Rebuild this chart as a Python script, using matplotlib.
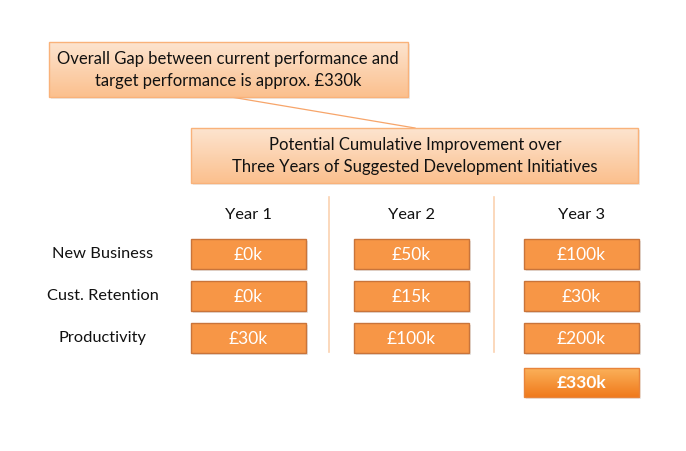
import matplotlib.pyplot as plt
import numpy as np
from matplotlib.patches import Rectangle
from matplotlib.colors import LinearSegmentedColormap

plt.rcParams['font.family'] = ['Lato', 'DejaVu Sans']

# data
years = ["Year 1", "Year 2", "Year 3"]
rows = ["New Business", "Cust. Retention", "Productivity"]
values = [
    ["£0k", "£0k", "£30k"],      # year 1
    ["£50k", "£15k", "£100k"],   # year 2
    ["£100k", "£30k", "£200k"],  # year 3
]
total = "£330k"
gap_text = "Overall Gap between current performance and\ntarget performance is approx. £330k"
title_text = "Potential Cumulative Improvement over\nThree Years of Suggested Development Initiatives"

W, H = 686, 451
fig = plt.figure(figsize=(W / 100, H / 100), dpi=100)
ax = fig.add_axes([0, 0, 1, 1])
ax.set_xlim(0, W)
ax.set_ylim(H, 0)
ax.axis("off")


def grad_box(x0, y0, w, h, c_top, c_bot, edge, z=2):
    cmap = LinearSegmentedColormap.from_list("g", [c_top, c_bot])
    grad = np.linspace(0, 1, 64).reshape(-1, 1)
    im = ax.imshow(grad, cmap=cmap, extent=(x0, x0 + w, y0 + h, y0),
                   aspect="auto", zorder=z)
    r = Rectangle((x0, y0), w, h, facecolor="none", edgecolor=edge, lw=1.0, zorder=z + 1)
    ax.add_patch(r)
    im.set_clip_path(r)
    # soft shadow
    ax.add_patch(Rectangle((x0 + 1.5, y0 + 2), w, h, facecolor="#000000", alpha=0.08,
                           edgecolor="none", zorder=z - 1))


# callout boxes
grad_box(49, 42, 359, 55, "#fde4cf", "#fbc08e", "#f9b27a")
ax.text(228, 70, gap_text, ha="center", va="center", fontsize=12, color="#111111",
        linespacing=1.45, zorder=5)

ax.plot([231, 415], [97, 128], color="#f7a56a", lw=0.9, zorder=1)

grad_box(191, 128, 447, 55, "#fde4cf", "#fbc08e", "#f9b27a")
ax.text(415, 156, title_text, ha="center", va="center", fontsize=12, color="#111111",
        linespacing=1.45, zorder=5)

# columns
col_x = [191, 354, 524]
box_w, box_h = 115, 30
row_y = [239, 281, 323]

for i, yr in enumerate(years):
    ax.text(col_x[i] + box_w / 2, 215, yr, ha="center", va="center", fontsize=11.8,
            color="#111111")
    for j, v in enumerate(values[i]):
        ax.add_patch(Rectangle((col_x[i] + 1.5, row_y[j] + 2), box_w, box_h, facecolor="#000000",
                               alpha=0.1, edgecolor="none", zorder=1))
        ax.add_patch(Rectangle((col_x[i], row_y[j]), box_w, box_h, facecolor="#f79646",
                               edgecolor="#c9743a", lw=1.0, zorder=2))
        ax.text(col_x[i] + box_w / 2, row_y[j] + box_h / 2 + 0.5, v, ha="center", va="center",
                fontsize=12.5, color="white", zorder=3)

for j, r in enumerate(rows):
    ax.text(103, row_y[j] + box_h / 2, r, ha="center", va="center", fontsize=11.8,
            color="#111111")

# dividers
for xd in [329, 494]:
    ax.plot([xd, xd], [197, 352], color="#fbd2b0", lw=1.2, zorder=1)

# total
grad_box(col_x[2], 368, box_w, 29, "#fbb15a", "#f07a1c", "#e8843a")
ax.text(col_x[2] + box_w / 2, 382.5, total, ha="center", va="center", fontsize=12.5,
        color="white", fontweight="bold", zorder=5)

fig.savefig("out.png", dpi=100)
